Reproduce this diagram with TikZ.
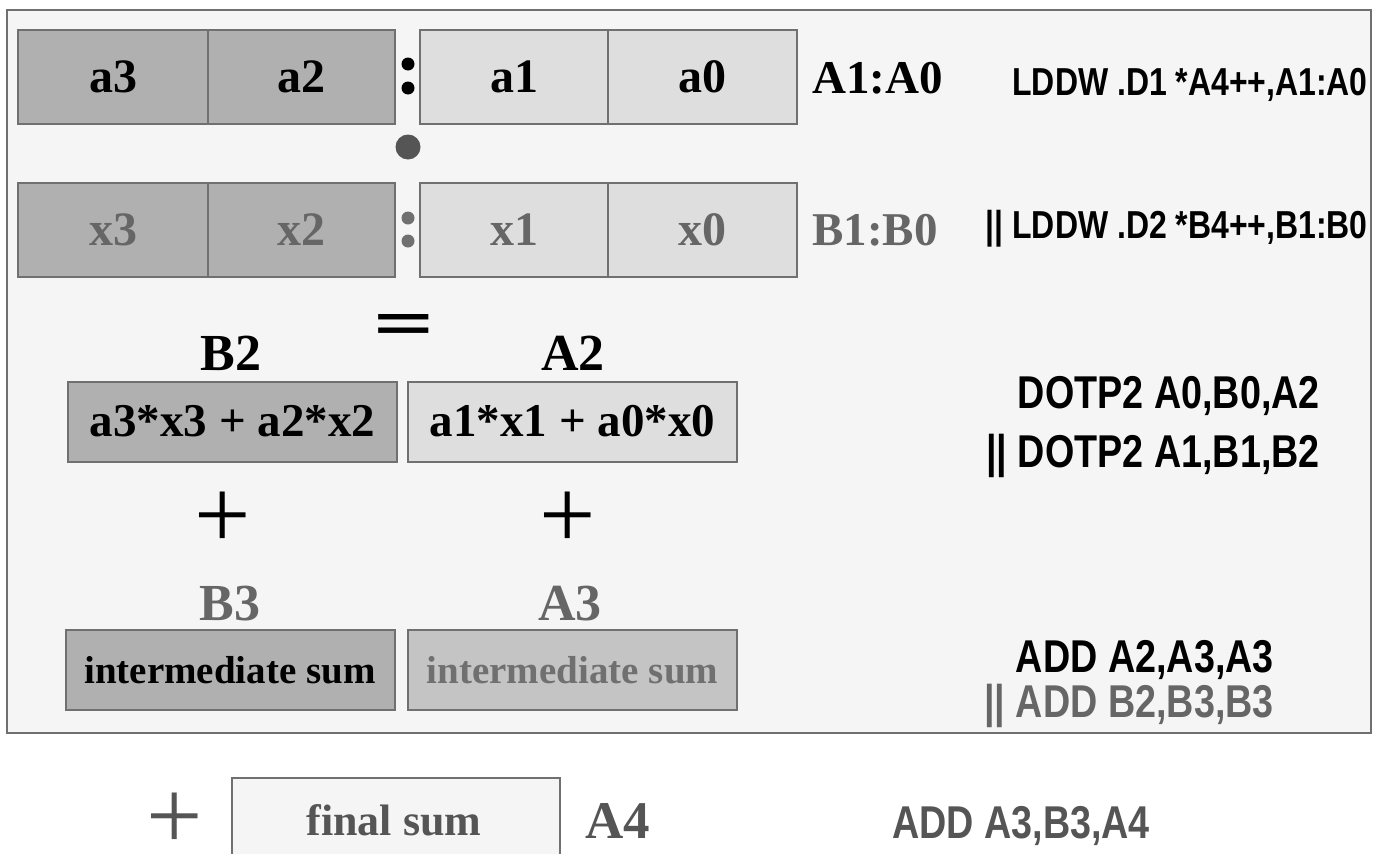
\documentclass[tikz,border=0pt]{standalone}
\usepackage{fontspec}
\setmainfont{Liberation Serif}
\newfontfamily\narrowsans[FakeStretch=0.82]{Liberation Sans}
\newfontfamily\plainsans{Liberation Sans}
\newcommand\fsz[1]{\fontsize{#1}{#1}\selectfont}

\definecolor{panel}{HTML}{F5F5F5}
\definecolor{edge}{HTML}{707070}
\definecolor{darkcell}{HTML}{B0B0B0}
\definecolor{lightcell}{HTML}{DEDEDE}
\definecolor{midcell}{HTML}{C4C4C4}
\definecolor{graytext}{HTML}{666666}
\definecolor{softtext}{HTML}{555555}
\definecolor{dotgray}{HTML}{555555}

\tikzset{
  cell/.style={draw=edge, line width=2pt, inner sep=0pt, minimum height=94pt,
    font=\bfseries\fsz{48}},
  sumbox/.style={draw=edge, line width=2pt, inner sep=0pt, minimum width=329pt,
    minimum height=80pt, font=\bfseries\fsz{47}},
  reglabel/.style={anchor=base, inner sep=0pt, font=\bfseries\fsz{47}},
  bigreg/.style={anchor=base, inner sep=0pt, font=\bfseries\fsz{52}},
  instr/.style={anchor=base east, inner sep=0pt, font=\narrowsans\bfseries\fsz{39}},
  instrbig/.style={anchor=base east, inner sep=0pt, font=\narrowsans\bfseries\fsz{46}},
  plus/.style={inner sep=0pt, font=\fsz{100}},
  dot/.style={circle, fill=black, inner sep=0pt, minimum size=13pt},
}

\begin{document}
\begin{tikzpicture}[x=1pt, y=-1pt]
\useasboundingbox (0,0) rectangle (1374,854);
\clip (0,0) rectangle (1374,854);
\fill[white] (0,0) rectangle (1374,854);

% panel holding the packed loads, dot products and partial sums
\draw[edge, line width=2.5pt, fill=panel] (7,10) rectangle (1371,733);

% first load: A1:A0
\node[cell, fill=darkcell, minimum width=190pt] (a3) at (113,77) {a3};
\node[cell, fill=darkcell, minimum width=187pt] (a2) at (301.5,77) {a2};
\node[cell, fill=lightcell, minimum width=188pt] (a1) at (514,77) {a1};
\node[cell, fill=lightcell, minimum width=189pt] (a0) at (702.5,77) {a0};
\node[dot] (ca1) at (408,64) {};
\node[dot] (ca2) at (408,88) {};
\node[reglabel, anchor=base west] (ra) at (812,93) {A1:A0};
\node[instr] (ia) at (1368,95) {LDDW .D1 *A4++,A1:A0};

% dot-product marker between the two loads
\node[circle, fill=dotgray, inner sep=0pt, minimum size=25pt] (mul) at (408,147) {};

% second load: B1:B0
\begin{scope}[every node/.append style={text=graytext}]
\node[cell, fill=darkcell, minimum width=190pt] (x3) at (113,230) {x3};
\node[cell, fill=darkcell, minimum width=187pt] (x2) at (301.5,230) {x2};
\node[cell, fill=lightcell, minimum width=188pt] (x1) at (514,230) {x1};
\node[cell, fill=lightcell, minimum width=189pt] (x0) at (702.5,230) {x0};
\node[reglabel, anchor=base west] (rb) at (812,245) {B1:B0};
\end{scope}
\node[dot, fill=edge] (cb1) at (408,218) {};
\node[dot, fill=edge] (cb2) at (408,241) {};
\node[instr] (ib) at (1368,238) {|| LDDW .D2 *B4++,B1:B0};

% equals sign
\node[inner sep=0pt, font=\plainsans\bfseries\fsz{50}] (eq) at (404,327) {\scalebox{2}[1]{=}};

% dot products
\node[bigreg] (lb2) at (231,370) {B2};
\node[bigreg] (la2) at (573,370) {A2};
\node[sumbox, fill=darkcell] (pb) at (232.5,421.5) {a3*x3 + a2*x2};
\node[sumbox, fill=lightcell] (pa) at (572.5,421.5) {a1*x1 + a0*x0};
\node[instrbig] (id1) at (1320,408) {DOTP2 A0,B0,A2};
\node[instrbig] (id2) at (1320,467) {|| DOTP2 A1,B1,B2};

\node[plus] (p1) at (223,520) {+};
\node[plus] (p2) at (568,520) {+};

% intermediate sums
\node[bigreg, text=graytext] (lb3) at (230,620) {B3};
\node[bigreg, text=graytext] (la3) at (570,620) {A3};
\node[sumbox, fill=darkcell, font=\bfseries\fsz{39}] (sb) at (230,670) {intermediate sum};
\node[sumbox, fill=midcell, text=edge, font=\bfseries\fsz{39}] (sa) at (572.5,670) {intermediate sum};
\node[instrbig] (ie1) at (1274,672) {ADD A2,A3,A3};
\node[instrbig, text=graytext] (ie2) at (1274,717) {|| ADD B2,B3,B3};

% final addition below the panel
\node[plus, text=softtext] (p3) at (175,821) {+};
\node[draw=edge, line width=2pt, fill=panel, inner sep=0pt, minimum width=328pt,
      minimum height=110pt, anchor=north west] (fs) at (231,777) {};
\node[anchor=base, inner sep=0pt, text=softtext, font=\bfseries\fsz{44}] (fst) at (394,835) {final sum};
\node[anchor=base west, inner sep=0pt, text=softtext, font=\bfseries\fsz{53}] (la4) at (585,838) {A4};
\node[instrbig, anchor=base west, text=softtext] (if) at (892,838) {ADD A3,B3,A4};
\end{tikzpicture}
\end{document}
